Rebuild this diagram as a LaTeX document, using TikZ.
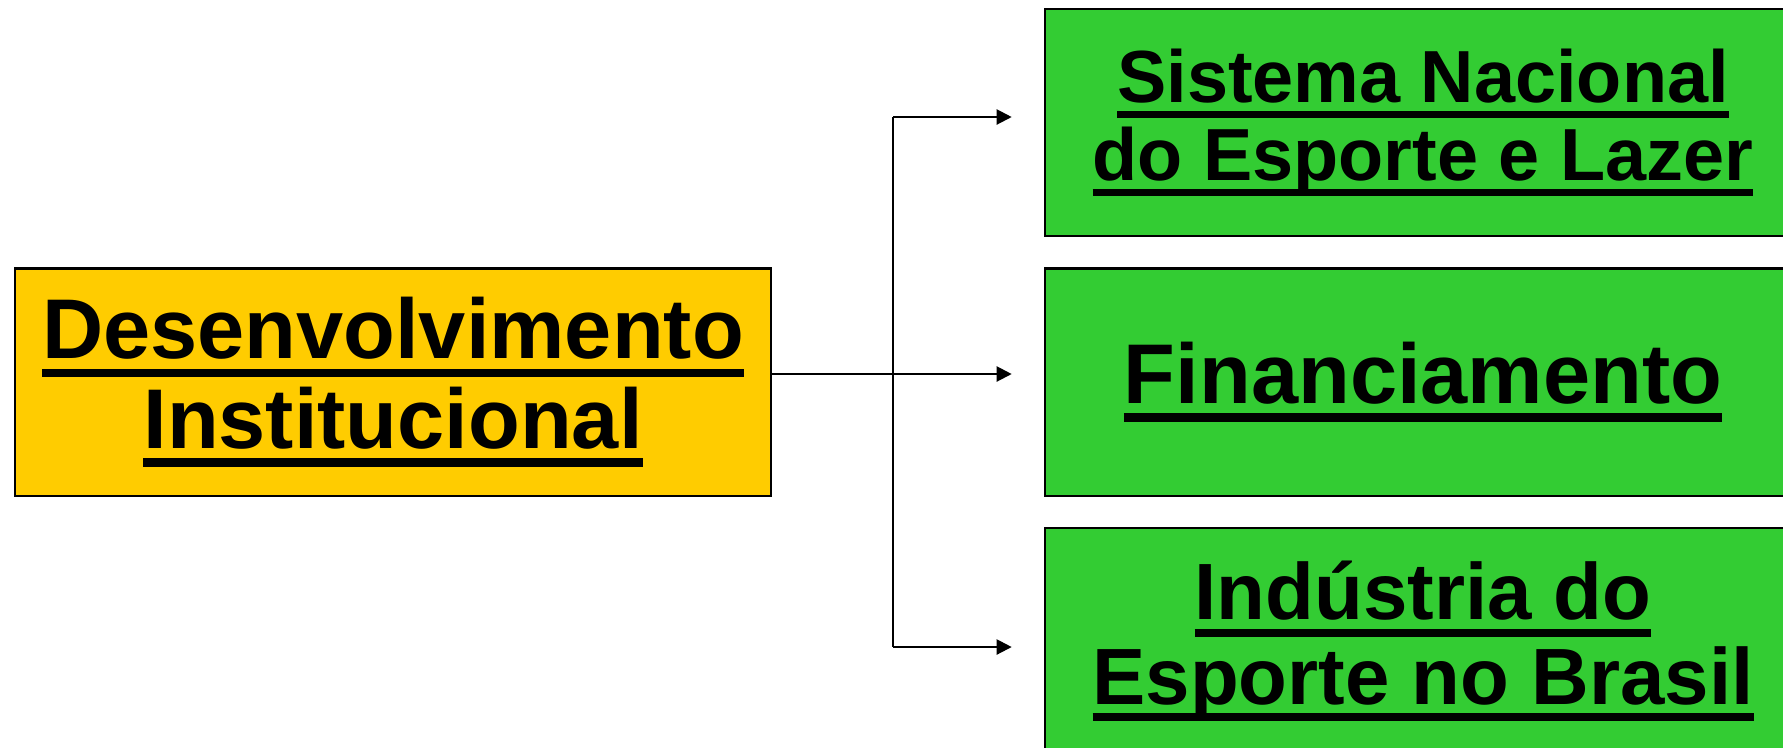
\documentclass[tikz,border=0pt]{standalone}
\usepackage{fontspec}
\setmainfont{Liberation Sans}
\definecolor{gold}{RGB}{255, 204, 0}
\definecolor{leaf}{RGB}{51, 204, 51}
\usetikzlibrary{arrows.meta}
\usetikzlibrary{positioning}
\newcommand{\ubar}[1]{\setbox0=\hbox{#1}\rlap{\rule[-0.215em]{\wd0}{0.1em}}\box0}
\newcommand{\fsz}[1]{\fontsize{#1}{1.055\dimexpr #1pt\relax}\selectfont}
\tikzset{
  topic/.style={
    draw=black, line width=0.6pt, fill=gold,
    minimum width=7.56cm, minimum height=2.27cm,
    inner sep=0, align=center, font=\bfseries
  },
  area/.style={topic, fill=leaf},
  arrow/.style={->,>={Triangle[length=1.5mm,width=1.5mm]}, shorten >=3.2mm, line width=0.6pt}
}

\begin{document}
\begin{tikzpicture}[x=0.01cm, y=0.01cm, node distance=0.3cm]
  \useasboundingbox (0,0) rectangle (1783,747);
  \clip (0,0) rectangle (1783,747);

  \node[topic, font=\bfseries\fsz{24.1}] (dev) at (393,365) {\ubar{Desenvolvimento}\\\ubar{Institucional}};

  \node[area, font=\bfseries\fsz{24.1}] (fin) at (1423,365) {\ubar{Financiamento}};
  \node[area, font=\bfseries\fsz{21}, above=of fin] (sis) {\ubar{Sistema Nacional}\\\ubar{do Esporte e Lazer}};
  \node[area, font=\bfseries\fsz{22.7}, below=of fin] (ind) {\ubar{Indústria do}\\\ubar{Esporte no Brasil}};

  % branch points
  \coordinate (jn) at (893,373);
  \coordinate (up) at (893,630);
  \coordinate (dn) at (893,100);

  \draw[arrow] (dev.east |- jn) -- (jn -| fin.west);
  \draw[line width=0.6pt] (up) -- (dn);
  \draw[arrow] (up) -- (up -| sis.west);
  \draw[arrow] (dn) -- (dn -| ind.west);
\end{tikzpicture}
\end{document}
